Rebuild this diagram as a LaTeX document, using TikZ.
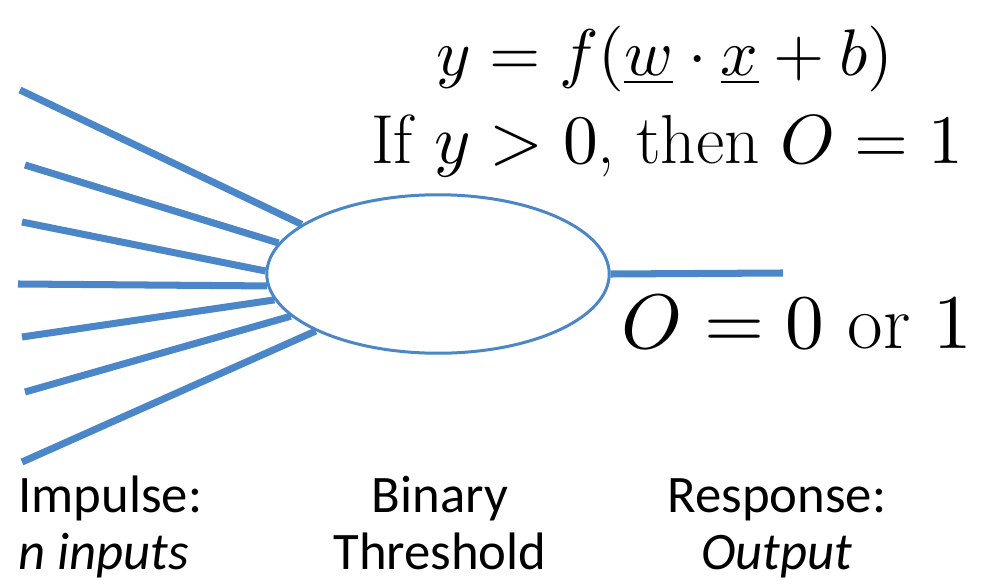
\documentclass[tikz,border=0pt]{standalone}
\usepackage{fontspec}
\usepackage{amsmath}
\usetikzlibrary{positioning,shapes.geometric}
\newfontfamily\labelfont{Carlito}
% scalable math fonts at any size
\DeclareFontFamily{OML}{cmm}{\skewchar\font127 }
\DeclareFontShape{OML}{cmm}{m}{it}{<->cmmi10}{}
\DeclareFontFamily{OMS}{cmsy}{\skewchar\font48 }
\DeclareFontShape{OMS}{cmsy}{m}{n}{<->cmsy10}{}
\DeclareFontFamily{OT1}{cmr}{\hyphenchar\font45 }
\DeclareFontShape{OT1}{cmr}{m}{n}{<->cmr10}{}
\definecolor{nervblue}{HTML}{4A86C8}
\tikzset{
  soma/.style={ellipse, draw=nervblue, fill=white, line width=1.7pt,
    minimum width=6.85cm, minimum height=3.17cm, inner sep=0pt},
  axon/.style={line width=4pt, color=nervblue},
  eqn/.style={anchor=base, inner sep=0pt, font=\fontsize{37.5}{45}\selectfont},
  bigeqn/.style={eqn, font=\fontsize{44}{52}\selectfont},
  labtxt/.style={anchor=base, inner sep=0pt, align=center,
    font=\labelfont\fontsize{30}{33}\selectfont},
}
\begin{document}
\begin{tikzpicture}[x=0.02cm,y=-0.02cm]
  \useasboundingbox (0,0) rectangle (985,584);
  \node[soma] (neuron) at (438,274) {};
  % inputs
  \foreach \i/\xx/\yy/\ang in {1/20/90/160, 2/25/165/169, 3/22/222/179,
                               4/18/284/184, 5/22/337/189, 6/25/392/196,
                               7/22/462/205} {
    \coordinate (in\i) at (\xx,\yy);
    \draw[axon] (in\i) -- (neuron.\ang);
  }
  \coordinate (out) at (783,273);
  \draw[axon] (neuron.east) -- (out);
  \node[eqn] (rule) at (665,76) {$y = f(\underline{w}\cdot\underline{x} + b)$};
  \node[eqn, font=\fontsize{39.5}{47}\selectfont] (cond) at (667,164) {If $y > 0$, then $O = 1$};
  \node[bigeqn] (resp) at (797,349) {$O = 0$ or $1$};
  \node[labtxt, align=left, anchor=base west] (impulse) at (18,570) {Impulse:\\\textit{n inputs}};
  \node[labtxt] (binary) at (440,570) {Binary\\Threshold};
  \node[labtxt] (response) at (777,570) {Response:\\\textit{Output}};
\end{tikzpicture}
\end{document}
